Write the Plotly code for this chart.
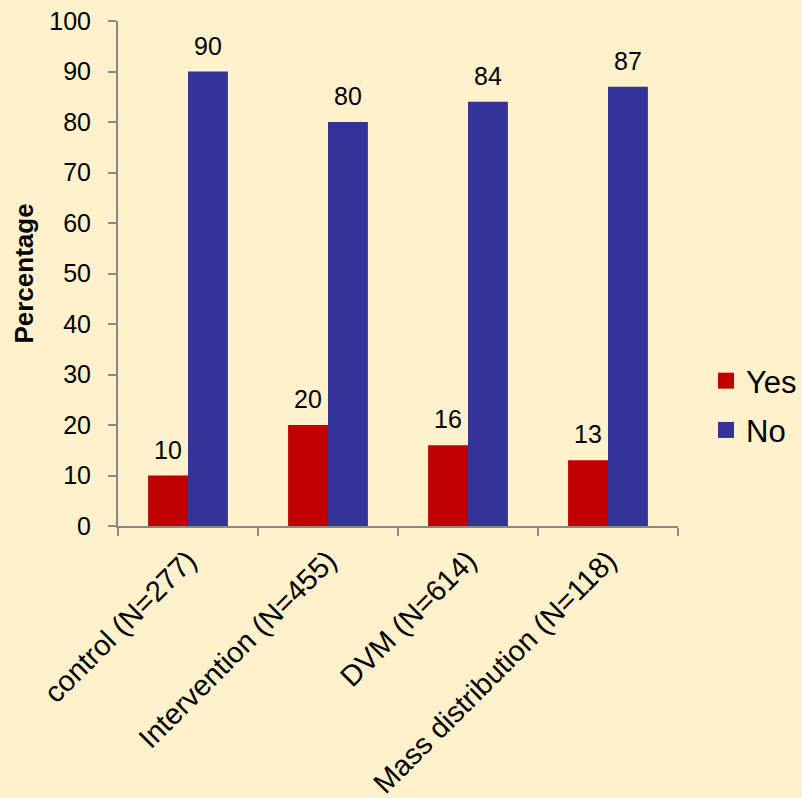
import plotly.graph_objects as go

categories = ["control (N=277)", "Intervention (N=455)", "DVM (N=614)", "Mass distribution (N=118)"]
yes_values = [10, 20, 16, 13]
no_values = [90, 80, 84, 87]
y_ticks = [0, 10, 20, 30, 40, 50, 60, 70, 80, 90, 100]

BG = "#FEF1CC"
RED = "#C00000"
BLUE = "#333399"
font = "Liberation Sans, Arial, sans-serif"

fig = go.Figure()
fig.add_trace(go.Bar(x=categories, y=yes_values, name="Yes", marker=dict(color=RED, line=dict(width=0)),
                     showlegend=False, legendgroup="yes"))
fig.add_trace(go.Bar(x=categories, y=no_values, name="No", marker=dict(color=BLUE, line=dict(width=0)),
                     showlegend=False, legendgroup="no"))
# legend entries with larger square swatches
fig.add_trace(go.Scatter(x=[None], y=[None], mode="markers", name="Yes", legendgroup="yes",
                         marker=dict(symbol="square", size=16, color=RED), hoverinfo="skip"))
fig.add_trace(go.Scatter(x=[None], y=[None], mode="markers", name="No", legendgroup="no",
                         marker=dict(symbol="square", size=16, color=BLUE), hoverinfo="skip"))

# value labels above each bar, positioned by data coordinates
for cat, yv, nv in zip(categories, yes_values, no_values):
    fig.add_annotation(x=cat, y=yv, text=str(yv), showarrow=False, xshift=-20, yshift=10,
                       yanchor="bottom", font=dict(size=25, family=font, color="#000000"))
    fig.add_annotation(x=cat, y=nv, text=str(nv), showarrow=False, xshift=20, yshift=10,
                       yanchor="bottom", font=dict(size=25, family=font, color="#000000"))

fig.update_layout(
    width=802, height=798,
    margin=dict(l=118, r=124, t=21, b=272, autoexpand=False),
    paper_bgcolor=BG, plot_bgcolor=BG,
    barmode="group", bargap=0.43, bargroupgap=0,
    font=dict(family=font, size=25, color="#000000"),
    showlegend=True,
    legend=dict(x=1.05, y=0.2386, xanchor="left", yanchor="middle",
                font=dict(size=31, family=font), bgcolor="rgba(0,0,0,0)",
                itemwidth=30, tracegroupgap=6),
)
fig.update_xaxes(
    type="category", showgrid=False, showline=True, linecolor="#888888", linewidth=2,
    ticks="outside", tickson="boundaries", ticklen=8, tickcolor="#888888", tickwidth=2,
    tickangle=-45, tickfont=dict(size=29, family=font), automargin=False, ticklabelstandoff=4,
)
fig.update_yaxes(
    range=[0, 100], tickvals=y_ticks, showgrid=False, zeroline=False,
    showline=True, linecolor="#888888", linewidth=2,
    ticks="outside", ticklen=8, tickcolor="#888888", tickwidth=2,
    tickfont=dict(size=25, family=font), automargin=False, ticklabelstandoff=12,
    title=dict(text="<b>Percentage</b>", font=dict(size=26, family=font), standoff=8),
)

fig.write_html("out.html")
